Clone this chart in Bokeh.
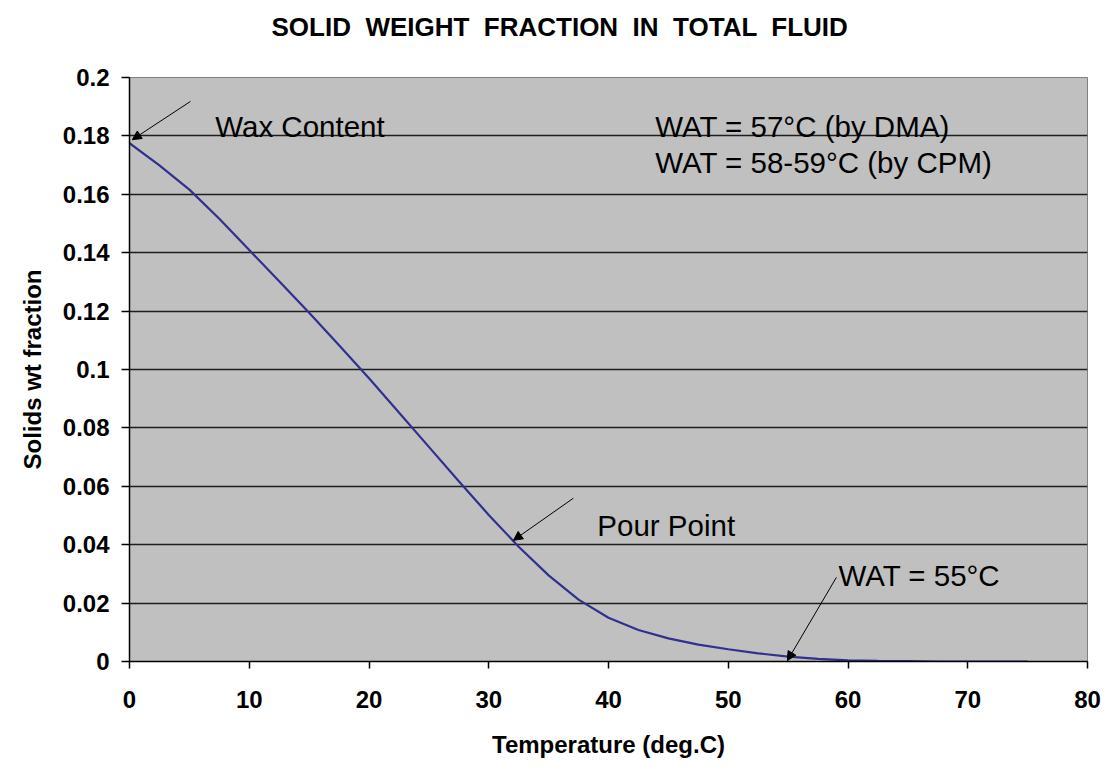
from bokeh.plotting import figure
from bokeh.models import Range1d, FixedTicker, Label, Arrow, NormalHead, Title
from bokeh.embed import file_html
from bokeh.resources import INLINE

# ---- data ----
temperature = [0, 2.5, 5, 7.5, 10, 12.5, 15, 17.5, 20, 22.5, 25, 27.5, 30, 32.5, 35,
               37.5, 40, 42.5, 45, 47.5, 50, 52.5, 55, 57.5, 60, 62.5, 65, 67.5, 70, 72.5, 75]
solids_frac = [0.1775, 0.1699, 0.1616, 0.1516, 0.1409, 0.1302, 0.1194, 0.1083, 0.0970, 0.0853,
               0.0735, 0.0617, 0.0502, 0.0393, 0.0295, 0.0212, 0.0150, 0.0108, 0.0079, 0.0058,
               0.0042, 0.0028, 0.0017, 0.0009, 0.0004, 0.0002, 0.0001, 0.0, 0.0, 0.0, 0.0]

x_ticks = [0, 10, 20, 30, 40, 50, 60, 70, 80]
y_ticks = [0, 0.02, 0.04, 0.06, 0.08, 0.1, 0.12, 0.14, 0.16, 0.18, 0.2]
y_tick_labels = ["0", "0.02", "0.04", "0.06", "0.08", "0.1", "0.12", "0.14", "0.16", "0.18", "0.2"]

title_text = "SOLID \u00a0WEIGHT \u00a0FRACTION \u00a0IN \u00a0TOTAL \u00a0FLUID"
x_label = "Temperature (deg.C)"
y_label = "Solids wt fraction"

# annotation texts and anchor positions (data coords)
note_texts = ["Wax Content", "WAT = 57°C (by DMA)", "WAT = 58-59°C (by CPM)", "Pour Point", "WAT = 55°C"]
note_x = [7.16, 43.9, 43.9, 39.07, 59.2]
note_y = [0.1833, 0.1833, 0.1708, 0.0467, 0.0295]

arrow_x_start = [5.09, 37.06, 59.03]
arrow_y_start = [0.1918, 0.0559, 0.0288]
arrow_x_end = [0.23, 32.06, 54.94]
arrow_y_end = [0.1787, 0.0415, 0.0003]

FONT = "Liberation Sans"

p = figure(width=1113, height=778, output_backend="svg", toolbar_location=None, title=None,
           x_range=Range1d(0, 80), y_range=Range1d(0, 0.2),
           min_border_left=129, min_border_right=26, min_border_top=77, min_border_bottom=117)

# spacer (nearest the frame), then the real title above it
p.add_layout(Title(text=" ", text_font_size="12px", standoff=18), "above")
p.add_layout(Title(text=title_text, align="left", offset=142, vertical_align="top", standoff=0,
                   text_font=FONT, text_font_size="26px", text_font_style="bold",
                   text_color="black"), "above")

p.background_fill_color = "#c0c0c0"
p.border_fill_color = "white"
p.outline_line_color = "#808080"
p.outline_line_width = 1

p.xgrid.visible = False
p.ygrid.grid_line_color = "#1e1e1e"
p.ygrid.grid_line_width = 1.5
p.ygrid.ticker = FixedTicker(ticks=y_ticks)

p.xaxis.ticker = FixedTicker(ticks=x_ticks)
p.yaxis.ticker = FixedTicker(ticks=y_ticks)
p.yaxis.major_label_overrides = {t: s for t, s in zip(y_ticks, y_tick_labels)}
p.xaxis.major_label_overrides = {t: str(t) for t in x_ticks}

for ax in (p.xaxis, p.yaxis):
    ax.axis_line_color = "black"
    ax.axis_line_width = 1.5
    ax.major_tick_line_color = "black"
    ax.major_tick_line_width = 1.5
    ax.major_tick_in = 0
    ax.minor_tick_line_color = None
    ax.major_label_text_font = FONT
    ax.major_label_text_font_size = "24px"
    ax.major_label_text_font_style = "bold"
    ax.major_label_text_color = "black"
    ax.axis_label_text_font = FONT
    ax.axis_label_text_font_size = "24px"
    ax.axis_label_text_font_style = "bold"
    ax.axis_label_text_color = "black"

p.xaxis.major_tick_out = 7
p.yaxis.major_tick_out = 8
p.xaxis.major_label_standoff = 22
p.yaxis.major_label_standoff = 12
p.xaxis.axis_label = x_label
p.yaxis.axis_label = y_label
p.xaxis.axis_label_standoff = 20
p.yaxis.axis_label_standoff = 14

p.line(temperature, solids_frac, line_color="#30308f", line_width=2.2)

for t, x, y in zip(note_texts, note_x, note_y):
    p.add_layout(Label(x=x, y=y, text=t, text_font=FONT, text_font_size="29.5px",
                       text_color="black", text_baseline="alphabetic", text_align="left"))

for xs, ys, xe, ye in zip(arrow_x_start, arrow_y_start, arrow_x_end, arrow_y_end):
    p.add_layout(Arrow(x_start=xs, y_start=ys, x_end=xe, y_end=ye,
                       line_color="black", line_width=1,
                       end=NormalHead(size=9, fill_color="black", line_color="black")))

open("out.html", "w").write(file_html(p, INLINE))
